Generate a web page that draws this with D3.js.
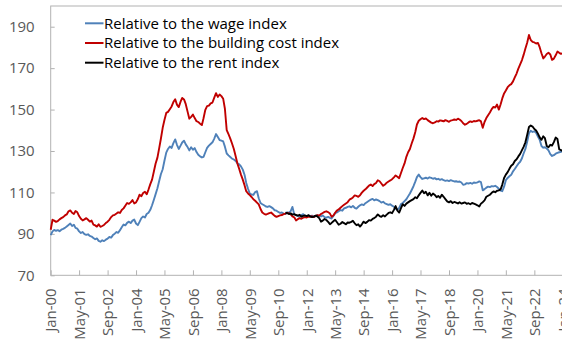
<!DOCTYPE html>
<html>
<head>
<meta charset="utf-8">
<script src="https://cdn.jsdelivr.net/npm/d3@7"></script>
<style>
  body { margin: 0; background: #fff; }
  svg { display: block; }
  text { font-family: "Open Sans", "Noto Sans", sans-serif; }
</style>
</head>
<body>
<svg id="chart" width="562" height="341"></svg>
<script>
// Monthly house-price ratios, Jan 2000 onwards (2011 = 100)
const firstMonth = new Date(2000, 0, 1);
const rentFirstMonth = new Date(2011, 0, 1);

const wageRatio = [
  89.4, 91.2, 91.9, 91.5, 91.8, 91.3, 92.0, 92.4, 92.9, 93.6, 94.3, 95.0,        // 2000
  93.8, 94.4, 92.9, 92.5, 91.2, 90.4, 90.9, 89.9, 89.5, 89.8, 89.0, 88.7,        // 2001
  88.0, 87.4, 87.8, 86.6, 86.2, 86.9, 86.5, 87.2, 87.7, 88.5, 88.2, 89.4,        // 2002
  90.1, 90.9, 90.5, 91.8, 93.2, 94.5, 94.1, 95.3, 95.9, 95.2, 96.4, 96.9,        // 2003
  95.0, 94.2, 95.8, 97.6, 98.4, 97.9, 99.6, 100.2, 101.6, 103.8, 106.5, 109.2,   // 2004
  112.0, 115.6, 118.8, 121.2, 125.3, 129.2, 131.0, 132.2, 131.5, 133.8, 135.6, 133.0, // 2005
  131.0, 132.6, 134.1, 135.0, 133.2, 131.9, 130.3, 131.8, 130.6, 131.4, 129.5, 128.2, // 2006
  127.4, 126.9, 127.2, 129.4, 131.5, 132.6, 133.4, 134.2, 136.0, 138.2, 136.8, 135.3, // 2007
  135.0, 134.6, 132.1, 128.8, 127.9, 127.1, 126.3, 125.9, 125.2, 124.1, 123.6, 122.6, // 2008
  121.0, 118.4, 114.6, 111.8, 109.5, 109.0, 108.8, 110.2, 110.6, 107.2, 104.9, 104.3, // 2009
  103.8, 103.2, 103.0, 103.4, 102.9, 102.3, 101.4, 101.2, 100.6, 100.1, 100.3, 99.8,  // 2010
  99.6, 100.4, 100.2, 101.0, 103.0, 99.4, 99.0, 98.6, 98.4, 99.1, 99.5, 98.6,     // 2011
  98.3, 98.9, 98.5, 98.8, 98.2, 98.6, 99.0, 98.7, 98.4, 98.9, 98.1, 97.8,         // 2012
  98.2, 97.7, 97.4, 98.6, 100.0, 100.4, 100.9, 101.5, 101.2, 102.3, 102.6, 103.0, // 2013
  103.3, 102.8, 103.5, 102.6, 102.2, 103.1, 103.8, 104.2, 103.9, 104.8, 105.4, 106.0, // 2014
  106.5, 106.9, 106.2, 106.6, 106.3, 105.8, 105.1, 105.5, 104.7, 104.4, 104.0, 104.3, // 2015
  103.6, 103.1, 102.2, 101.6, 102.5, 104.4, 104.9, 105.8, 106.7, 108.1, 109.5, 111.2, // 2016
  113.0, 115.2, 117.4, 118.6, 117.4, 116.5, 116.8, 117.1, 116.7, 117.3, 117.0, 116.6, // 2017
  116.9, 116.3, 116.6, 116.1, 116.4, 115.9, 115.6, 115.8, 115.5, 115.9, 115.6, 115.3, // 2018
  115.4, 115.1, 115.3, 114.8, 113.7, 113.9, 114.5, 114.3, 114.6, 114.2, 114.8, 114.6, // 2019
  114.9, 115.3, 115.0, 111.0, 111.6, 112.3, 112.8, 112.6, 113.0, 112.9, 113.2, 112.6, // 2020
  111.8, 110.9, 110.6, 112.8, 115.9, 117.0, 117.8, 118.5, 120.2, 121.3, 122.6, 123.9, // 2021
  124.8, 126.5, 128.8, 131.0, 134.5, 138.6, 139.8, 139.2, 139.5, 138.8, 137.0, 135.4, // 2022
  132.4, 131.6, 131.8, 131.2, 130.3, 128.5, 127.6, 128.0, 128.7, 129.1, 129.4, 129.6, // 2023
  129.8                                                                           // 2024
];

const buildingCostRatio = [
  92.0, 96.8, 96.4, 95.8, 96.2, 97.0, 97.6, 98.1, 98.9, 99.4, 100.9, 101.3,       // 2000
  100.2, 99.6, 101.0, 100.4, 98.6, 97.3, 96.5, 97.0, 97.6, 96.8, 95.9, 96.4,      // 2001
  94.5, 94.1, 93.5, 94.6, 93.4, 93.8, 94.3, 95.2, 95.9, 96.8, 98.1, 98.9,         // 2002
  99.2, 99.8, 100.4, 100.1, 101.5, 102.3, 103.6, 104.9, 104.5, 105.2, 106.3, 104.7, // 2003
  105.2, 106.8, 108.9, 108.2, 109.7, 110.3, 109.1, 111.4, 114.0, 116.2, 120.1, 124.0, // 2004
  126.8, 131.5, 135.9, 141.2, 145.0, 148.4, 148.9, 150.2, 151.5, 153.6, 155.0, 152.4, // 2005
  151.2, 153.8, 155.6, 154.9, 152.6, 149.0, 145.6, 146.5, 147.6, 145.9, 144.4, 144.0, // 2006
  143.2, 142.5, 145.8, 149.9, 151.7, 151.9, 153.0, 153.4, 155.8, 157.9, 156.1, 157.3, // 2007
  156.5, 155.2, 150.4, 140.1, 138.2, 136.0, 133.6, 131.0, 127.5, 124.0, 121.3, 118.6, // 2008
  116.2, 113.4, 110.6, 109.5, 108.7, 107.8, 106.7, 106.0, 105.1, 104.2, 102.0, 100.3, // 2009
  99.7, 99.3, 99.6, 100.0, 100.3, 99.5, 98.7, 98.2, 98.6, 98.9, 99.1, 99.5,       // 2010
  99.8, 100.1, 99.9, 99.4, 98.4, 98.0, 96.5, 97.1, 97.6, 97.3, 97.8, 98.1,        // 2011
  97.9, 98.4, 98.2, 98.5, 98.1, 98.7, 99.0, 98.8, 99.6, 100.1, 100.6, 100.9,      // 2012
  100.5, 99.8, 98.3, 98.9, 100.2, 101.3, 101.8, 102.6, 103.4, 104.1, 104.7, 105.3, // 2013
  106.5, 107.0, 107.6, 108.6, 108.3, 107.9, 108.6, 109.9, 110.8, 111.5, 112.4, 113.3, // 2014
  113.8, 113.1, 114.0, 114.6, 115.9, 115.4, 114.3, 113.2, 113.8, 114.7, 115.3, 115.8, // 2015
  116.4, 117.3, 118.2, 117.6, 116.9, 119.4, 121.8, 124.0, 127.2, 129.4, 131.0, 133.6, // 2016
  136.1, 139.2, 142.8, 144.6, 145.3, 145.9, 145.4, 145.7, 144.9, 144.3, 143.7, 143.4, // 2017
  143.8, 144.4, 144.2, 144.8, 144.6, 144.3, 144.9, 144.5, 144.1, 144.7, 144.9, 145.2, // 2018
  145.0, 145.6, 145.2, 144.5, 143.4, 142.7, 143.1, 143.8, 144.3, 144.0, 144.5, 144.3, // 2019
  144.6, 144.9, 144.3, 141.2, 144.0, 145.9, 147.3, 148.6, 150.2, 151.3, 151.0, 152.4, // 2020
  150.0, 152.6, 155.4, 157.8, 159.2, 160.8, 161.7, 162.3, 163.6, 165.5, 167.4, 169.8, // 2021
  171.8, 173.9, 176.4, 179.5, 182.3, 186.0, 183.6, 182.7, 182.4, 181.9, 182.2, 180.1, // 2022
  177.2, 174.7, 175.6, 176.8, 177.4, 176.6, 174.0, 174.6, 176.2, 178.0, 177.4, 176.9, // 2023
  177.2                                                                           // 2024
];

const rentRatio = [
  100.2, 100.0, 99.6, 99.9, 99.3, 99.5, 99.1, 98.8, 99.2, 98.3, 98.7, 98.9,       // 2011
  98.6, 99.0, 98.4, 98.1, 98.3, 98.8, 98.4, 97.6, 95.9, 96.4, 97.2, 96.7,         // 2012
  95.8, 94.7, 95.3, 96.1, 96.8, 95.6, 94.4, 94.9, 95.7, 95.2, 94.6, 95.5,         // 2013
  95.4, 95.8, 96.3, 95.1, 94.2, 94.6, 93.5, 94.6, 95.9, 95.2, 95.8, 96.6,         // 2014
  96.4, 97.2, 97.6, 98.3, 99.4, 98.6, 98.2, 99.0, 98.4, 99.3, 100.1, 100.4,       // 2015
  100.0, 101.6, 103.4, 101.2, 100.3, 102.4, 104.3, 103.5, 104.6, 105.2, 105.8, 106.3, // 2016
  106.8, 107.7, 107.2, 108.6, 109.8, 110.9, 109.6, 110.3, 108.6, 109.8, 108.4, 109.5, // 2017
  108.8, 107.7, 108.3, 107.4, 108.9, 107.9, 106.8, 105.7, 105.2, 105.8, 104.9, 105.4, // 2018
  105.1, 104.7, 105.3, 104.6, 104.9, 105.2, 104.5, 104.8, 104.3, 104.9, 104.6, 104.2, // 2019
  103.8, 103.2, 104.6, 105.3, 106.2, 107.9, 108.4, 108.9, 109.8, 110.5, 110.1, 110.8, // 2020
  111.0, 111.5, 113.8, 117.0, 118.6, 119.8, 121.4, 122.9, 123.6, 125.2, 126.0, 127.4, // 2021
  128.6, 130.4, 132.0, 134.2, 137.8, 141.6, 142.3, 141.8, 140.6, 139.9, 138.4, 136.6, // 2022
  135.4, 137.1, 136.2, 132.4, 131.8, 133.0, 132.6, 134.3, 136.5, 135.8, 130.8, 130.4, // 2023
  130.0                                                                           // 2024
];

const seriesNames = [
  "Relative to the wage index",
  "Relative to the building cost index",
  "Relative to the rent index"
];

const xTickLabels = [
  "Jan-00", "May-01", "Sep-02", "Jan-04", "May-05", "Sep-06", "Jan-08", "May-09",
  "Sep-10", "Jan-12", "May-13", "Sep-14", "Jan-16", "May-17", "Sep-18", "Jan-20",
  "May-21", "Sep-22", "Jan-24"
];
const xTickStepMonths = 16;
const yTickValues = [70, 90, 110, 130, 150, 170, 190];

// ---- drawing ----
const colors = ["#4f81b9", "#c00000", "#000000"];
const axisGrey = "#b2b2b2";
const labelGrey = "#595959";

const svg = d3.select("#chart");
const plot = { left: 50.7, top: 6, bottom: 275.3, right: 562.8 };

const x = d3.scaleTime()
  .domain([firstMonth, new Date(2024, 0, 1)])
  .range([plot.left, plot.right]);
const y = d3.scaleLinear()
  .domain([70, 200])
  .range([plot.bottom, plot.top]);

const toPoints = (values, start) =>
  values.map((v, i) => ({ date: d3.timeMonth.offset(start, i), value: v }));

const series = [
  toPoints(wageRatio, firstMonth),
  toPoints(buildingCostRatio, firstMonth),
  toPoints(rentRatio, rentFirstMonth)
];

// plot-area frame
svg.append("rect")
  .attr("x", plot.left).attr("y", plot.top)
  .attr("width", 700).attr("height", plot.bottom - plot.top)
  .attr("fill", "none").attr("stroke", axisGrey).attr("stroke-width", 1);

// y axis (ticks point inward)
const yAxis = svg.append("g")
  .attr("transform", `translate(${plot.left},0)`)
  .call(d3.axisLeft(y).tickValues(yTickValues).tickSizeInner(-4).tickSizeOuter(0).tickPadding(16));
yAxis.select(".domain").remove();
yAxis.selectAll("line").attr("stroke", axisGrey);
yAxis.selectAll("text")
  .attr("fill", labelGrey).attr("font-size", 15)
  .attr("font-family", '"Open Sans", sans-serif');

// x axis
const xTickDates = xTickLabels.map((_, i) => d3.timeMonth.offset(firstMonth, i * xTickStepMonths));
const xAxis = svg.append("g")
  .attr("transform", `translate(0,${plot.bottom})`)
  .call(d3.axisBottom(x).tickValues(xTickDates).tickSizeInner(-5).tickSizeOuter(0)
    .tickFormat((d, i) => xTickLabels[i]));
xAxis.select(".domain").remove();
xAxis.selectAll("line").attr("stroke", axisGrey);
xAxis.selectAll("text")
  .attr("transform", "rotate(-90)")
  .attr("x", -13).attr("y", 0).attr("dy", "0.35em")
  .attr("text-anchor", "end")
  .attr("fill", labelGrey).attr("font-size", 15)
  .attr("font-family", '"Open Sans", sans-serif');

// lines
const line = d3.line()
  .x(d => x(d.date))
  .y(d => y(d.value));

series.forEach((pts, i) => {
  svg.append("path")
    .datum(pts)
    .attr("fill", "none")
    .attr("stroke", colors[i])
    .attr("stroke-width", 1.9)
    .attr("stroke-linejoin", "round")
    .attr("d", line);
});

// legend
const legend = svg.append("g");
seriesNames.forEach((name, i) => {
  const ly = 23.3 + i * 19.7;
  legend.append("line")
    .attr("x1", 85).attr("x2", 103.5).attr("y1", ly).attr("y2", ly)
    .attr("stroke", colors[i]).attr("stroke-width", 2);
  legend.append("text")
    .attr("x", 104).attr("y", ly).attr("dy", "0.35em")
    .attr("font-size", 15).attr("fill", "#000")
    .text(name);
});
</script>
</body>
</html>
